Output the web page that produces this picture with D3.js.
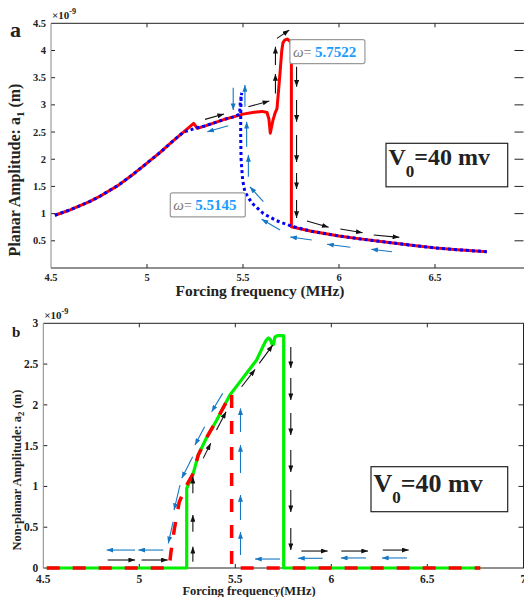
<!DOCTYPE html>
<html><head><meta charset="utf-8">
<script src="https://cdn.jsdelivr.net/npm/d3@7"></script>
<style>
body{margin:0;background:#fff}
svg{display:block}
text{font-family:"Liberation Serif","Times New Roman",serif;font-weight:bold;fill:#222}
</style>
</head><body>
<svg id="c" width="524" height="597"></svg>
<script>
// ---------- tick values ----------
const topXTicks = [4.5, 5, 5.5, 6, 6.5];
const topYTicks = [0.5, 1, 1.5, 2, 2.5, 3, 3.5, 4, 4.5];
const botXTicks = [4.5, 5, 5.5, 6, 6.5, 7];
const botYTicks = [0, 0.5, 1, 1.5, 2, 2.5, 3];

// ---------- panel a : planar amplitude a1 (×1e-9 m) ----------
// forward sweep (red solid) [frequency MHz, amplitude]
const topForward = [[4.52,0.97],[4.6,1.07],[4.7,1.22],[4.755,1.32],[4.85,1.52],[4.93,1.73],[5.0,1.93],
 [5.07,2.13],[5.13,2.32],[5.19,2.5],[5.243,2.66],[5.262,2.57],[5.3,2.61],[5.35,2.67],[5.4,2.73],
 [5.45,2.78],[5.5,2.83],[5.55,2.86],[5.6,2.88],[5.625,2.86],[5.635,2.74],[5.642,2.48],[5.655,2.7],
 [5.667,2.85],[5.677,2.93],[5.686,3.3],[5.694,3.64],[5.702,4.0],[5.708,4.14],[5.717,4.19],[5.73,4.21],
 [5.745,4.17],[5.752,4.1],[5.752,0.76],[5.85,0.68],[6.0,0.59],[6.1,0.54],[6.26,0.47],[6.4,0.41],
 [6.5,0.37],[6.6,0.34],[6.77,0.3]];
// backward sweep (blue dotted)
const topBackward = [[6.77,0.3],[6.6,0.34],[6.5,0.37],[6.4,0.41],[6.26,0.47],[6.1,0.54],[6.0,0.59],
 [5.85,0.68],[5.752,0.77],[5.675,0.87],[5.606,1.0],[5.545,1.2],[5.51,1.4],[5.498,1.62],[5.49,2.0],
 [5.488,2.4],[5.488,2.8],[5.49,3.1],[5.493,3.22],[5.486,3.05],[5.482,2.83],[5.45,2.78],[5.4,2.73],
 [5.35,2.67],[5.3,2.61],[5.262,2.58],[5.19,2.5],[5.13,2.32],[5.07,2.13],[5.0,1.93],[4.93,1.73],
 [4.85,1.52],[4.755,1.32],[4.7,1.22],[4.6,1.07],[4.52,0.97]];
// arrows [f1,a1,f2,a2]
const topBlackArrows = [[5.302,2.733,5.401,2.831],[5.528,2.965,5.637,3.07],[5.669,3.211,5.669,3.566],
 [5.669,3.732,5.669,4.068],[5.677,4.222,5.741,4.375],[5.779,3.70,5.779,3.333],[5.779,3.088,5.779,2.689],
 [5.779,2.445,5.779,1.95],[5.779,1.746,5.779,1.452],[5.779,1.25,5.779,0.919],
 [5.833,0.864,5.946,0.748],[6.007,0.717,6.123,0.649],[6.181,0.607,6.314,0.564]];
const topBlueArrows = [[5.423,2.616,5.314,2.506],[5.449,3.314,5.449,2.904],[5.51,2.965,5.51,3.364],
 [5.519,2.23,5.519,2.689],[5.528,1.678,5.528,2.077],[5.606,1.219,5.536,1.494],[5.693,0.699,5.597,0.895],
 [5.858,0.515,5.746,0.57],[6.059,0.381,5.938,0.436],[6.276,0.3,6.168,0.344]];
// data tips [frequency, amplitude, label]
const topTips = [[5.7522,4.2,"5.7522","left"],[5.5145,1.38,"5.5145","right"]];

// ---------- panel b : non-planar amplitude a2 ----------
const botForward = [[4.518,0],[5.247,0],[5.247,0.977],[5.281,1.16],[5.307,1.385],[5.351,1.6],[5.4,1.8],
 [5.472,2.12],[5.53,2.3],[5.611,2.55],[5.645,2.72],[5.66,2.79],[5.672,2.82],[5.683,2.8],[5.692,2.74],
 [5.699,2.74],[5.706,2.83],[5.72,2.85],[5.752,2.85],[5.752,0],[6.776,0]];
const botBackward = [[4.518,0],[5.156,0],[5.164,0.18],[5.182,0.47],[5.208,0.81],[5.25,1.03],[5.281,1.16],
 [5.307,1.385],[5.351,1.6],[5.4,1.8],[5.472,2.12],[5.481,2.14],[5.481,0],[6.776,0]];
const botBlackArrows = [[4.835,0.098,4.978,0.098],[5.012,0.098,5.148,0.098],[5.844,0.208,5.981,0.208],
 [6.052,0.208,6.191,0.208],[6.268,0.22,6.403,0.22],
 [5.279,0.077,5.279,0.261],[5.279,0.445,5.279,0.65],[5.279,0.915,5.279,1.119],
 [5.333,1.344,5.372,1.528],[5.402,1.691,5.452,1.915],[5.533,2.222,5.603,2.435],[5.625,2.509,5.695,2.733],
 [5.789,2.708,5.789,2.451],[5.789,2.328,5.789,2.059],[5.789,1.9,5.789,1.63],[5.789,1.446,5.789,1.176],
 [5.789,0.956,5.789,0.686],[5.789,0.49,5.789,0.22]];
const botBlueArrows = [[4.978,0.22,4.83,0.22],[5.125,0.22,4.995,0.22],[5.733,0.11,5.603,0.11],
 [5.955,0.119,5.827,0.119],[6.181,0.123,6.05,0.123],[6.394,0.123,6.264,0.123],
 [5.434,2.141,5.377,1.915],[5.34,1.732,5.29,1.507],[5.278,1.364,5.221,1.099],[5.212,1.017,5.181,0.711],
 [5.176,0.567,5.151,0.303],
 [5.527,1.667,5.527,1.957],[5.527,1.164,5.527,1.507],[5.527,0.588,5.527,0.895],[5.527,0.159,5.527,0.441]];

// ---------- drawing ----------
const svg = d3.select("#c");
const BLUEARROW = "#1677c4";
const defs = svg.append("defs");
[["hk","#111"],["hb",BLUEARROW]].forEach(([id,col])=>{
  defs.append("marker").attr("id",id).attr("viewBox","0 0 8 6").attr("refX",8).attr("refY",3)
    .attr("markerWidth",7).attr("markerHeight",5).attr("markerUnits","userSpaceOnUse").attr("orient","auto")
    .append("path").attr("d","M0,0L8,3L0,6Z").attr("fill",col);
});

function panel(o){
  const g = svg.append("g");
  const x = o.x, y = o.y;
  const x0 = x.range()[0];
  const [yb,yt] = y.range();
  const tl = o.tickLen;
  o.xTicks.forEach(t=>{
    if (t>4.5 && x(t)<523) {
      g.append("line").attr("x1",x(t)).attr("x2",x(t)).attr("y1",yb).attr("y2",yb-tl).attr("stroke","#222");
      g.append("line").attr("x1",x(t)).attr("x2",x(t)).attr("y1",yt).attr("y2",yt+tl).attr("stroke","#222");
    }
    g.append("text").attr("x",x(t)).attr("y",yb+o.xLabDy).attr("text-anchor","middle")
      .attr("font-size",o.tickFs).text(t);
  });
  o.yTicks.forEach(t=>{
    if (t>y.domain()[0] && t<y.domain()[1]) {
      g.append("line").attr("x1",x0).attr("x2",x0+tl).attr("y1",y(t)).attr("y2",y(t)).attr("stroke","#222");
      g.append("line").attr("x1",523.5-o.rTick).attr("x2",523.5).attr("y1",y(t)).attr("y2",y(t)).attr("stroke","#222");
    }
    g.append("text").attr("x",x0-o.yLabDx).attr("y",y(t)+o.tickFs*0.34).attr("text-anchor","end")
      .attr("font-size",o.tickFs).text(t);
  });
  g.append("line").attr("x1",x0).attr("x2",524).attr("y1",yt).attr("y2",yt).attr("stroke","#222");
  g.append("line").attr("x1",x0).attr("x2",524).attr("y1",yb).attr("y2",yb).attr("stroke","#222");
  g.append("line").attr("x1",x0).attr("x2",x0).attr("y1",yt).attr("y2",yb).attr("stroke","#888");
  if (o.rightBorder) g.append("line").attr("x1",523.5).attr("x2",523.5).attr("y1",yt).attr("y2",yb).attr("stroke","#222");
  const ex = g.append("text").attr("x",x0+1).attr("y",yt-o.expDy).attr("font-size",o.expFs).attr("font-weight","normal");
  ex.append("tspan").text("\u00d710");
  ex.append("tspan").attr("dy",-5).attr("font-size",o.expFs*0.75).text("-9");
  return g;
}

function arrows(g,x,y,list,col,mk){
  g.selectAll(null).data(list).enter().append("line")
   .attr("x1",d=>x(d[0])).attr("y1",d=>y(d[1])).attr("x2",d=>x(d[2])).attr("y2",d=>y(d[3]))
   .attr("stroke",col).attr("stroke-width",1.1).attr("marker-end",`url(#${mk})`);
}

// ---- panel a ----
const xT = d3.scaleLinear([4.5,7],[51,531]);
const yT = d3.scaleLinear([0,4.5],[268,23.3]);
const gA = panel({x:xT,y:yT,xTicks:topXTicks,yTicks:topYTicks,tickLen:4,rTick:9,tickFs:10.5,xLabDy:12.5,yLabDx:5,expDy:4,expFs:11,rightBorder:false});
const line = (x,y)=>d3.line().x(d=>x(d[0])).y(d=>y(d[1]));
gA.append("path").attr("d",line(xT,yT)(topForward)).attr("fill","none").attr("stroke","#ff0000").attr("stroke-width",3).attr("stroke-linejoin","round");
gA.append("path").attr("d",line(xT,yT)(topBackward)).attr("fill","none").attr("stroke","#0000ff").attr("stroke-width",3).attr("stroke-dasharray","3,3");
arrows(gA,xT,yT,topBlackArrows,"#111","hk");
arrows(gA,xT,yT,topBlueArrows,BLUEARROW,"hb");
topTips.forEach(([f,a,lab,side])=>{
  const w=75,h=24;
  const bx = side==="left" ? xT(f)-1.5 : xT(f)-w-0.5;
  const by = yT(a);
  gA.append("rect").attr("x",bx).attr("y",by).attr("width",w).attr("height",h).attr("rx",2)
    .attr("fill","#fff").attr("stroke","#9a9a9a").attr("stroke-width",1.2);
  const t = gA.append("text").attr("x",bx+3).attr("y",by+17).attr("font-family","Liberation Sans, Arial, sans-serif");
  t.append("tspan").attr("font-style","italic").attr("font-weight","normal").attr("fill","#777").attr("font-size",15).text("\u03c9");
  t.append("tspan").attr("font-weight","normal").attr("fill","#777").attr("font-size",14).text("= ");
  t.append("tspan").attr("fill","#1a9bff").attr("font-size",15).text(lab);
});
function vbox(g,bx,by,w,h,fs,sfs,base,subDy){
  g.append("rect").attr("x",bx).attr("y",by).attr("width",w).attr("height",h).attr("fill","#fff").attr("stroke","#222").attr("stroke-width",1.2);
  const t=g.append("text").attr("x",bx+2.5).attr("y",by+base).attr("font-size",fs).attr("fill","#111");
  t.append("tspan").text("V");
  t.append("tspan").attr("dy",subDy).attr("font-size",sfs).text("0");
  t.append("tspan").attr("dy",-subDy).text("=40 mv");
}
vbox(gA,386,143.3,121.7,43.5,24,17,22,12);
gA.append("text").attr("x",10).attr("y",37).attr("font-size",22).attr("fill","#111").text("a");
gA.append("text").attr("x",260).attr("y",296).attr("text-anchor","middle").attr("font-size",15.5).text("Forcing frequency (MHz)");
{
  const t=gA.append("text").attr("transform","translate(20,170) rotate(-90)").attr("text-anchor","middle").attr("font-size",16);
  t.append("tspan").text("Planar Amplitude: a");
  t.append("tspan").attr("dy",4).attr("font-size",11).text("1");
  t.append("tspan").attr("dy",-4).text(" (m)");
}

// ---- panel b ----
const xB = d3.scaleLinear([4.5,7],[43.3,523.3]);
const yB = d3.scaleLinear([0,3],[568,323.3]);
const gB = panel({x:xB,y:yB,xTicks:botXTicks,yTicks:botYTicks,tickLen:4,rTick:5,tickFs:11.5,xLabDy:15,yLabDx:5,expDy:4,expFs:11,rightBorder:true});
gB.append("path").attr("d",line(xB,yB)(botForward)).attr("fill","none").attr("stroke","#00ee00").attr("stroke-width",3.2).attr("stroke-linejoin","round");
gB.append("path").attr("d",line(xB,yB)(botBackward)).attr("fill","none").attr("stroke","#ff0000").attr("stroke-width",3.5).attr("stroke-dasharray","13,13");
arrows(gB,xB,yB,botBlackArrows,"#111","hk");
arrows(gB,xB,yB,botBlueArrows,BLUEARROW,"hb");
vbox(gB,371,466.7,136.7,45,26,17,25,11);
gB.append("text").attr("x",12).attr("y",337).attr("font-size",15).attr("fill","#111").text("b");
gB.append("text").attr("x",249).attr("y",595).attr("text-anchor","middle").attr("font-size",12.5).text("Forcing frequency(MHz)");
{
  const t=gB.append("text").attr("transform","translate(21,470) rotate(-90)").attr("text-anchor","middle").attr("font-size",12.5);
  t.append("tspan").text("Non-planar Amplitude: a");
  t.append("tspan").attr("dy",3).attr("font-size",9).text("2");
  t.append("tspan").attr("dy",-3).text(" (m)");
}
</script>
</body></html>
